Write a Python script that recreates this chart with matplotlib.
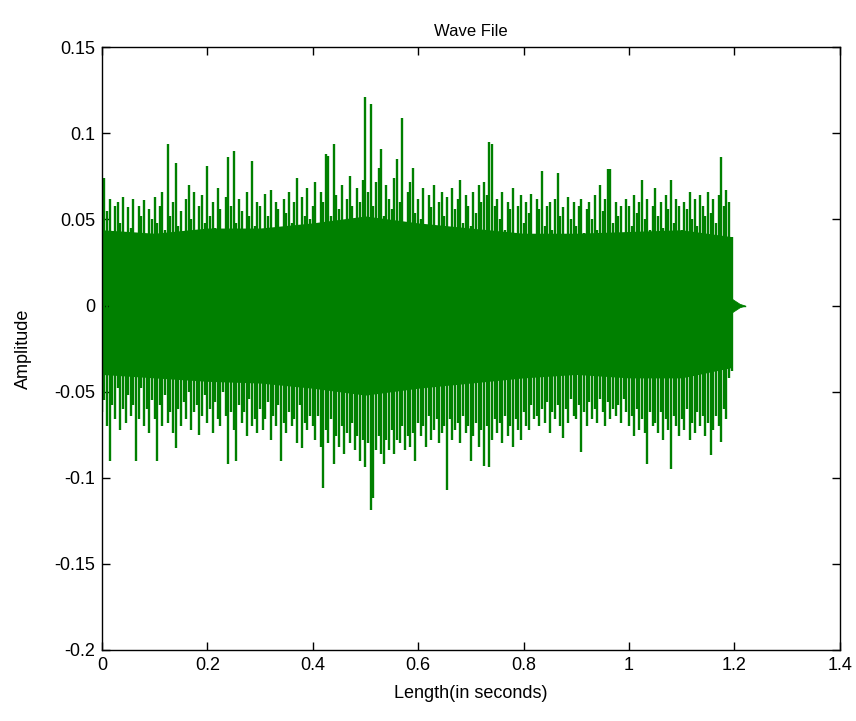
import numpy as np
import matplotlib
matplotlib.use("Agg")
import matplotlib.pyplot as plt

plt.rcParams['font.family'] = ['Liberation Sans Narrow', 'Liberation Sans', 'DejaVu Sans']
plt.rcParams['axes.unicode_minus'] = False

# sample step of the envelope columns (seconds)
STEP = 0.005

# upper / lower extremes of the waveform per column, in thousandths
upper = [
    70, 74, 55, 62, 38, 58, 60, 48, 63, 42,
    57, 45, 62, 35, 58, 52, 61, 40, 56, 50,
    63, 48, 58, 66, 44, 94, 52, 60, 83, 46,
    55, 38, 62, 70, 50, 66, 42, 58, 64, 48,
    81, 52, 60, 45, 68, 56, 40, 63, 86, 58,
    90, 48, 62, 55, 42, 66, 52, 84, 46, 60,
    58, 40, 65, 52, 67, 45, 60, 56, 38, 62,
    54, 66, 48, 60, 74, 44, 63, 52, 68, 50,
    58, 72, 46, 66, 60, 88, 87, 52, 94, 64,
    56, 70, 48, 62, 75, 58, 44, 68, 60, 73,
    121, 66, 117, 58, 72, 80, 91, 52, 70, 62,
    56, 74, 85, 60, 109, 48, 66, 72, 80, 54,
    62, 50, 68, 44, 64, 57, 70, 46, 60, 66,
    52, 63, 45, 68, 56, 62, 73, 48, 64, 58,
    46, 66, 54, 70, 60, 72, 64, 95, 94, 58,
    62, 50, 66, 44, 60, 56, 68, 42, 58, 64,
    48, 60, 54, 65, 40, 62, 56, 78, 46, 58,
    60, 44, 62, 77, 52, 57, 40, 63, 50, 60,
    46, 58, 62, 42, 56, 60, 50, 64, 44, 70,
    55, 62, 79, 79, 48, 60, 52, 58, 42, 62,
    58, 46, 64, 54, 60, 73, 50, 62, 44, 58,
    68, 52, 60, 45, 64, 56, 73, 48, 62, 58,
    44, 60, 56, 66, 50, 62, 46, 64, 58, 52,
    66, 54, 62, 48, 64, 86, 58, 67, 60, 40,
]
lower = [
    -62, -55, -70, -90, -58, -66, -48, -72, -60, -68,
    -52, -64, -58, -90, -66, -48, -70, -60, -74, -55,
    -66, -90, -58, -70, -52, -68, -62, -74, -83, -60,
    -70, -56, -66, -50, -72, -62, -58, -75, -64, -52,
    -68, -60, -74, -56, -66, -70, -50, -64, -92, -62,
    -72, -90, -58, -68, -62, -76, -54, -70, -66, -74,
    -60, -72, -66, -56, -78, -64, -70, -58, -90, -68,
    -74, -62, -70, -66, -80, -58, -83, -68, -72, -64,
    -70, -78, -64, -82, -106, -72, -80, -66, -92, -76,
    -82, -70, -86, -74, -80, -68, -84, -76, -90, -78,
    -94, -80, -119, -112, -84, -76, -86, -92, -78, -84,
    -72, -86, -78, -80, -70, -84, -76, -82, -74, -90,
    -68, -76, -70, -82, -64, -78, -72, -66, -80, -74,
    -70, -107, -66, -78, -72, -68, -80, -64, -74, -70,
    -90, -76, -68, -82, -72, -93, -70, -94, -78, -66,
    -74, -68, -80, -64, -76, -70, -82, -66, -72, -78,
    -62, -70, -72, -58, -66, -64, -70, -60, -68, -56,
    -74, -62, -66, -58, -70, -77, -60, -68, -54, -64,
    -66, -58, -85, -62, -70, -56, -66, -60, -68, -54,
    -62, -70, -56, -66, -60, -64, -58, -68, -54, -62,
    -70, -64, -76, -60, -72, -66, -74, -92, -62, -70,
    -68, -74, -62, -78, -66, -72, -95, -64, -70, -76,
    -66, -72, -60, -78, -68, -74, -62, -70, -64, -76,
    -68, -87, -72, -64, -70, -79, -60, -66, -42, -38,
]

# solid core of the signal (thousandths), every 0.1 s
core_t = [0.0, 0.1, 0.2, 0.3, 0.4, 0.5, 0.6, 0.7, 0.8, 0.9, 1.0, 1.1, 1.195]
core_hi = [44, 42, 45, 45, 48, 52, 48, 45, 42, 42, 43, 44, 40]
core_lo = [-40, -42, -44, -45, -48, -52, -48, -45, -42, -40, -42, -42, -36]

# fading tail after the sound stops
tail_t = [1.195, 1.2, 1.205, 1.21, 1.215, 1.22]
tail_hi = [4, 3, 2, 1, 0.5, 0]
tail_lo = [-4, -3, -2, -1, -0.5, 0]

yticks = [-0.2, -0.15, -0.1, -0.05, 0, 0.05, 0.1, 0.15]
ytick_labels = ['-0.2', '-0.15', '-0.1', '-0.05', '0', '0.05', '0.1', '0.15']
xticks = [0, 0.2, 0.4, 0.6, 0.8, 1.0, 1.2, 1.4]
xtick_labels = ['0', '0.2', '0.4', '0.6', '0.8', '1', '1.2', '1.4']

GREEN = '#008000'

fig = plt.figure(figsize=(8.56, 7.21), dpi=100)
ax = fig.add_axes([0.119, 0.0985, 0.862, 0.836])

t = np.arange(len(upper)) * STEP
hi = np.array(upper) / 1000.0
lo = np.array(lower) / 1000.0

ax.fill_between(core_t, np.array(core_lo) / 1000.0, np.array(core_hi) / 1000.0,
                color=GREEN, lw=0)
ax.vlines(t, lo, hi, color=GREEN, linewidth=1.7)
ax.fill_between(tail_t, np.array(tail_lo) / 1000.0, np.array(tail_hi) / 1000.0,
                color=GREEN, lw=0.6)
ax.plot([tail_t[0], tail_t[-1]], [0, 0], color=GREEN, lw=1)

ax.set_xlim(0, 1.4)
ax.set_ylim(-0.2, 0.15)
ax.set_xticks(xticks)
ax.set_xticklabels(xtick_labels)
ax.set_yticks(yticks)
ax.set_yticklabels(ytick_labels)
ax.tick_params(direction='in', length=6, width=1, top=True, right=True,
               labelsize=13, pad=5)
for s in ax.spines.values():
    s.set_linewidth(1)

ax.set_title('Wave File', fontsize=12, pad=8)
ax.set_xlabel('Length(in seconds)', fontsize=13, labelpad=8)
ax.set_ylabel('Amplitude', fontsize=13, labelpad=16)

fig.savefig('out.png', dpi=100)
